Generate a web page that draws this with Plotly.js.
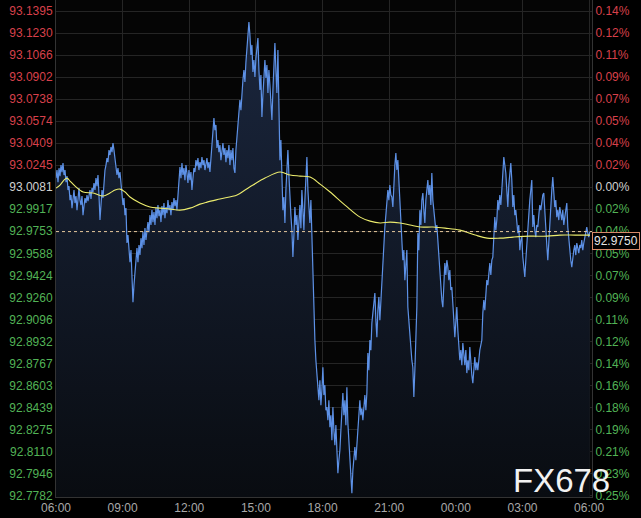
<!DOCTYPE html>
<html>
<head>
<meta charset="utf-8">
<script src="https://cdn.plot.ly/plotly-3.0.1.min.js"></script>
<style>html,body{margin:0;padding:0;background:#000;}#chart{width:641px;height:518px;}</style>
</head>
<body>
<div id="chart"></div>
<script>
// ---- data ----
const timeLabels = ['06:00','09:00','12:00','15:00','18:00','21:00','00:00','03:00','06:00'];
const timeTickHours = [0,3,6,9,12,15,18,21,24];
const refPrice = 93.0081;
const lastPrice = 92.9750;
const priceTicks = [93.1395,93.1230,93.1066,93.0902,93.0738,93.0574,93.0409,93.0245,93.0081,92.9917,92.9753,92.9588,92.9424,92.9260,92.9096,92.8932,92.8767,92.8603,92.8439,92.8275,92.8110,92.7946,92.7782];
const percentTicks = ['0.14%','0.12%','0.11%','0.09%','0.07%','0.05%','0.04%','0.02%','0.00%','0.02%','0.04%','0.05%','0.07%','0.09%','0.11%','0.12%','0.14%','0.16%','0.18%','0.19%','0.21%','0.23%','0.25%'];
const sampleStepMinutes = 2.7;
const prices = [
93.0149,93.0209,93.0119,93.0223,93.0164,93.0246,93.0194,93.0261,93.0172,93.0209,93.0119,93.0164,93.0060,93.0089,92.9985,93.0023,92.9925,93.0000,93.0060,92.9963,93.0015,92.9910,93.0038,93.0074,92.9985,92.9948,93.0015,92.9873,92.9940,93.0000,92.9963,93.0023,92.9978,93.0008,93.0060,92.9993,93.0074,93.0045,93.0112,93.0060,93.0149,93.0089,93.0172,93.0023,92.9836,92.9948,93.0060,93.0000,93.0134,93.0209,93.0246,93.0298,93.0268,93.0358,93.0321,93.0381,93.0343,93.0411,93.0358,93.0283,93.0209,93.0172,93.0223,93.0149,93.0194,93.0097,93.0038,
92.9948,93.0000,92.9873,92.9925,92.9665,92.9724,92.9575,92.9522,92.9612,92.9388,92.9224,92.9351,92.9463,92.9537,92.9627,92.9522,92.9650,92.9575,92.9701,92.9627,92.9746,92.9650,92.9776,92.9687,92.9761,92.9821,92.9746,92.9873,92.9799,92.9910,92.9821,92.9895,92.9799,92.9925,92.9850,92.9948,92.9865,92.9910,92.9821,92.9940,92.9873,92.9963,92.9850,92.9933,92.9888,92.9985,92.9910,92.9948,92.9873,92.9970,92.9910,93.0000,92.9940,92.9985,92.9910,93.0015,93.0097,93.0231,93.0149,93.0261,93.0172,93.0223,93.0134,93.0246,93.0187,93.0112,93.0209,
93.0134,93.0194,93.0060,93.0149,93.0223,93.0194,93.0283,93.0238,93.0298,93.0209,93.0268,93.0223,93.0306,93.0246,93.0283,93.0209,93.0253,93.0298,93.0223,93.0268,93.0194,93.0283,93.0358,93.0470,93.0596,93.0507,93.0545,93.0373,93.0433,93.0343,93.0396,93.0283,93.0358,93.0411,93.0321,93.0373,93.0268,93.0358,93.0298,93.0396,93.0246,93.0358,93.0283,93.0373,93.0223,93.0187,93.0358,93.0455,93.0545,93.0641,93.0731,93.0656,93.0806,93.0880,93.0955,93.0865,93.1014,93.1104,93.1193,93.1313,93.1216,93.1067,93.1142,93.0940,93.1029,93.0903,93.1044,
93.1119,93.1193,93.0955,93.0806,93.0918,93.0604,93.0769,93.0880,93.1029,93.0895,93.0992,93.0784,93.0955,93.0843,93.0731,93.0582,93.0806,93.1029,93.1157,93.0955,93.0784,93.1104,93.0731,93.0283,93.0433,93.0209,92.9910,93.0008,92.9814,93.0060,93.0209,93.0358,93.0172,92.9985,92.9873,92.9761,92.9560,92.9724,92.9933,92.9799,92.9873,92.9687,92.9836,92.9948,92.9776,93.0060,92.9910,92.9761,92.9985,93.0134,93.0306,93.0060,92.9910,92.9814,92.9985,92.9687,92.9441,92.9239,92.8941,92.8791,92.8695,92.8605,92.8493,92.8642,92.8456,92.8568,
92.8739,92.8531,92.8605,92.8418,92.8441,92.8344,92.8493,92.8292,92.8381,92.8195,92.8441,92.8269,92.8158,92.8307,92.8068,92.7949,92.8045,92.8120,92.8269,92.8418,92.8546,92.8381,92.8493,92.8307,92.8590,92.8322,92.8195,92.8008,92.7896,92.7800,92.7971,92.8083,92.8143,92.8045,92.8158,92.8195,92.8344,92.8493,92.8381,92.8433,92.8344,92.8456,92.8531,92.8418,92.8546,92.8844,92.8717,92.8941,92.8866,92.9068,92.9164,92.9239,92.9292,92.9090,92.8963,92.9164,92.9262,92.9090,92.9239,92.9441,92.9537,92.9650,92.9784,92.9873,92.9948,93.0060,92.9985,
93.0097,93.0023,93.0008,92.9933,93.0134,93.0246,93.0336,93.0209,93.0283,93.0134,92.9985,92.9836,92.9687,92.9537,92.9612,92.9388,92.9500,92.9612,92.9187,92.9090,92.8941,92.8829,92.8791,92.8739,92.8516,92.8717,92.8941,92.9187,92.9739,92.9612,92.9910,92.9799,92.9985,93.0038,92.9910,92.9814,92.9985,93.0060,93.0134,93.0023,93.0097,92.9948,93.0187,92.9985,92.9910,92.9836,92.9761,92.9799,92.9687,92.9537,92.9388,92.9314,92.9239,92.9187,92.9351,92.9515,92.9426,92.9537,92.9485,92.9388,92.9463,92.9314,92.9336,92.9239,92.9090,92.8963,92.9090,
92.9187,92.9015,92.8904,92.8791,92.8866,92.8754,92.8919,92.8829,92.8754,92.8866,92.8695,92.8791,92.8717,92.8889,92.8754,92.8680,92.8620,92.8754,92.8814,92.8717,92.8776,92.8717,92.8829,92.8866,92.8904,92.8941,92.9142,92.9239,92.9164,92.9314,92.9388,92.9351,92.9463,92.9515,92.9426,92.9537,92.9560,92.9687,92.9858,92.9761,92.9836,92.9985,92.9910,93.0023,92.9948,93.0060,93.0172,93.0306,93.0246,93.0187,93.0060,92.9933,93.0097,93.0209,93.0261,93.0134,92.9933,93.0023,92.9873,92.9910,92.9814,92.9739,92.9799,92.9612,92.9687,92.9709,
92.9560,92.9500,92.9411,92.9537,92.9665,92.9799,92.9910,92.9985,93.0060,93.0134,92.9784,92.9873,92.9761,92.9709,92.9799,92.9784,92.9873,92.9948,92.9910,92.9985,93.0023,93.0038,92.9873,92.9739,92.9650,92.9537,92.9687,92.9858,92.9985,93.0060,93.0157,93.0023,92.9933,92.9985,92.9858,92.9910,92.9836,92.9933,92.9873,92.9836,92.9910,92.9799,92.9858,92.9910,92.9963,92.9784,92.9687,92.9612,92.9537,92.9485,92.9575,92.9612,92.9650,92.9575,92.9665,92.9612,92.9590,92.9650,92.9627,92.9687,92.9612,92.9665,92.9701,92.9746,92.9784,92.9739,92.9709,92.9750
];
const maHours = [0,0.18,0.36,0.50,0.63,0.86,1.22,1.67,2.12,2.43,2.66,2.88,3.11,3.33,3.78,4.23,4.68,5.13,5.58,6.03,6.48,6.80,7.38,8.15,8.51,8.87,9.41,10.09,10.54,10.99,11.44,11.89,12.34,13.01,13.69,14.14,14.59,15.04,15.49,15.94,16.39,16.97,17.52,18.19,18.87,19.41,19.99,20.58,21.34,22.11,22.69,23.37,24.04];
const maValues = [93.0074,93.0097,93.0134,93.0149,93.0127,93.0089,93.0045,93.0038,93.0015,93.0038,93.0060,93.0067,93.0045,93.0008,92.9963,92.9933,92.9925,92.9918,92.9910,92.9925,92.9955,92.9970,92.9993,93.0023,93.0060,93.0097,93.0149,93.0194,93.0172,93.0164,93.0157,93.0104,93.0045,92.9948,92.9858,92.9828,92.9814,92.9821,92.9814,92.9799,92.9784,92.9784,92.9776,92.9761,92.9724,92.9701,92.9701,92.9709,92.9716,92.9716,92.9724,92.9724,92.9724];

// ---- styling ----
const RED = '#d8404b', GREEN = '#52b356', NEUTRAL = '#d0d0d0';
function colorFor(p){ return Math.abs(p-refPrice) < 1e-6 ? NEUTRAL : (p > refPrice ? RED : GREEN); }
const leftText = priceTicks.map(p => '<span style="color:' + colorFor(p) + '">' + p.toFixed(4) + '</span>');
const rightText = priceTicks.map((p,i) => '<span style="color:' + colorFor(p) + '">' + percentTicks[i] + '</span>');
const hours = prices.map((_, i) => i * sampleStepMinutes / 60);

const yRange = [92.7771, 93.1477];
const fontFam = '"Liberation Sans", Arial, sans-serif';

const traces = [
  {
    x: hours, y: prices, type: 'scatter', mode: 'lines',
    line: {color: '#5d91e6', width: 1.2},
    fill: 'tozeroy',
    fillgradient: {type: 'vertical', start: 92.7782, stop: 93.1395,
      colorscale: [[0, '#090c11'], [1, '#1b273f']]},
    hoverinfo: 'skip'
  },
  {
    x: maHours, y: maValues, type: 'scatter', mode: 'lines', yaxis: 'y2',
    line: {color: '#ecec6e', width: 1.1, shape: 'spline'},
    hoverinfo: 'skip'
  }
];

const layout = {
  width: 641, height: 518,
  paper_bgcolor: '#000000', plot_bgcolor: '#050505',
  margin: {l: 56, r: 49, t: 0, b: 21},
  showlegend: false,
  xaxis: {
    range: [0, 24.13], tickvals: timeTickHours, ticktext: timeLabels,
    showgrid: true, gridcolor: '#252525', gridwidth: 1, zeroline: false,
    showline: true, linecolor: '#333333', ticks: '',
    tickfont: {family: fontFam, size: 12, color: '#a8a8a8'}
  },
  yaxis: {
    range: yRange, tickvals: priceTicks, ticktext: leftText,
    showgrid: true, gridcolor: '#252525', gridwidth: 1, zeroline: false,
    showline: true, linecolor: '#333333', ticks: '',
    tickfont: {family: fontFam, size: 12, color: '#888'}
  },
  yaxis2: {
    range: yRange, overlaying: 'y', side: 'right',
    tickvals: priceTicks, ticktext: rightText,
    showgrid: false, zeroline: false, showline: true, linecolor: '#333333', ticks: '',
    tickfont: {family: fontFam, size: 12, color: '#888'}
  },
  shapes: [
    {type: 'line', xref: 'paper', x0: 0, x1: 1, yref: 'y', y0: lastPrice, y1: lastPrice,
     line: {color: '#e8c99c', width: 1, dash: '3px,3px'}}
  ],
  annotations: [
    {xref: 'paper', x: 1, xanchor: 'left', yref: 'y', y: lastPrice, yanchor: 'top',
     text: lastPrice.toFixed(4), showarrow: false,
     font: {family: fontFam, size: 12, color: '#e6e6e6'},
     bgcolor: '#000000', bordercolor: '#d98a6a', borderwidth: 1, borderpad: 1},
    {xref: 'paper', x: 0.944, xanchor: 'center', yref: 'paper', y: 0.034, yanchor: 'middle',
     text: 'FX678', showarrow: false,
     font: {family: fontFam, size: 33, color: '#f2f2f2'}}
  ]
};

Plotly.newPlot('chart', traces, layout, {staticPlot: true, displayModeBar: false});
</script>
</body>
</html>
